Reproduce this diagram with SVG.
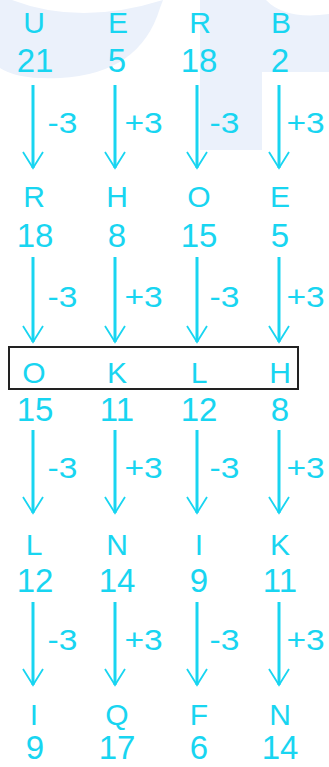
<svg xmlns="http://www.w3.org/2000/svg" width="329" height="767" viewBox="0 0 329 767">
<style>
.wm{fill:#EBF1FB}
.l{fill:#18D5F1;font-family:"Liberation Sans",Arial,sans-serif;font-size:30px;text-anchor:middle}
.n{fill:#18D5F1;font-family:"Liberation Sans",Arial,sans-serif;font-size:33px;text-anchor:middle}
.op{fill:#18D5F1;font-family:"Liberation Sans",Arial,sans-serif;font-size:30px}
.sh{stroke:#18D5F1;stroke-width:3;fill:none}
.hd{stroke:#18D5F1;stroke-width:1.8;fill:none}
.box{fill:none;stroke:#222;stroke-width:2}
</style>
<defs>
<marker id="ah" markerUnits="userSpaceOnUse" viewBox="-18 -12 20 24" markerWidth="20" markerHeight="24" refX="0" refY="0" orient="auto" overflow="visible">
<path class="hd" d="M-16,-10 L0,0 L-16,10"/>
</marker>
</defs>
<rect width="329" height="767" fill="#fff"/>
<g id="watermark">
<path class="wm" d="M0,0 L12,0 Q80,26 163,0 L160,8 Q140,74 60,78 Q18,80 0,68 Z"/>
<path class="wm" d="M200,0 L266,0 Q285,20 329,14 L329,72 L262,72 L262,150 L200,150 Z"/>
</g>
<g id="highlight">
<rect class="box" x="9" y="347" width="289" height="42"/>
</g>
<g id="row1">
<g id="n-U"><text class="l" x="34" y="33">U</text><text class="n" x="35" y="72">21</text></g>
<g id="n-E"><text class="l" x="118" y="33">E</text><text class="n" x="117" y="72">5</text></g>
<g id="n-R"><text class="l" x="200" y="33">R</text><text class="n" x="199" y="72">18</text></g>
<g id="n-B"><text class="l" x="281" y="33">B</text><text class="n" x="280" y="72">2</text></g>
</g>
<g id="row2">
<g id="n-R2"><text class="l" x="34" y="207">R</text><text class="n" x="35" y="247">18</text></g>
<g id="n-H2"><text class="l" x="117" y="207">H</text><text class="n" x="117" y="247">8</text></g>
<g id="n-O2"><text class="l" x="199" y="207">O</text><text class="n" x="199" y="247">15</text></g>
<g id="n-E2"><text class="l" x="280" y="207">E</text><text class="n" x="280" y="247">5</text></g>
</g>
<g id="row3">
<g id="n-O3"><text class="l" x="34" y="383">O</text><text class="n" x="35" y="421">15</text></g>
<g id="n-K3"><text class="l" x="117" y="383">K</text><text class="n" x="117" y="421">11</text></g>
<g id="n-L3"><text class="l" x="199" y="383">L</text><text class="n" x="199" y="421">12</text></g>
<g id="n-H3"><text class="l" x="280" y="383">H</text><text class="n" x="280" y="421">8</text></g>
</g>
<g id="row4">
<g id="n-L4"><text class="l" x="34" y="555">L</text><text class="n" x="35" y="592">12</text></g>
<g id="n-N4"><text class="l" x="117" y="555">N</text><text class="n" x="117" y="592">14</text></g>
<g id="n-I4"><text class="l" x="199" y="555">I</text><text class="n" x="199" y="592">9</text></g>
<g id="n-K4"><text class="l" x="280" y="555">K</text><text class="n" x="280" y="592">11</text></g>
</g>
<g id="row5">
<g id="n-I5"><text class="l" x="34" y="725">I</text><text class="n" x="35" y="759">9</text></g>
<g id="n-Q5"><text class="l" x="117" y="725">Q</text><text class="n" x="117" y="759">17</text></g>
<g id="n-F5"><text class="l" x="199" y="725">F</text><text class="n" x="199" y="759">6</text></g>
<g id="n-N5"><text class="l" x="280" y="725">N</text><text class="n" x="280" y="759">14</text></g>
</g>
<g id="connectors">
<line class="sh" x1="33" y1="85" x2="33" y2="168" marker-end="url(#ah)"/>
<line class="sh" x1="115" y1="85" x2="115" y2="168" marker-end="url(#ah)"/>
<line class="sh" x1="197" y1="85" x2="197" y2="168" marker-end="url(#ah)"/>
<line class="sh" x1="279" y1="85" x2="279" y2="168" marker-end="url(#ah)"/>
<text class="op" transform="translate(47.5,133) scale(1.12,1)">-3</text>
<text class="op" transform="translate(124.5,133) scale(1.12,1)">+3</text>
<text class="op" transform="translate(209.5,133) scale(1.12,1)">-3</text>
<text class="op" transform="translate(286.5,133) scale(1.12,1)">+3</text>
<line class="sh" x1="33" y1="257" x2="33" y2="342" marker-end="url(#ah)"/>
<line class="sh" x1="115" y1="257" x2="115" y2="342" marker-end="url(#ah)"/>
<line class="sh" x1="197" y1="257" x2="197" y2="342" marker-end="url(#ah)"/>
<line class="sh" x1="279" y1="257" x2="279" y2="342" marker-end="url(#ah)"/>
<text class="op" transform="translate(47.5,307) scale(1.12,1)">-3</text>
<text class="op" transform="translate(124.5,307) scale(1.12,1)">+3</text>
<text class="op" transform="translate(209.5,307) scale(1.12,1)">-3</text>
<text class="op" transform="translate(286.5,307) scale(1.12,1)">+3</text>
<line class="sh" x1="33" y1="430" x2="33" y2="513" marker-end="url(#ah)"/>
<line class="sh" x1="115" y1="430" x2="115" y2="513" marker-end="url(#ah)"/>
<line class="sh" x1="197" y1="430" x2="197" y2="513" marker-end="url(#ah)"/>
<line class="sh" x1="279" y1="430" x2="279" y2="513" marker-end="url(#ah)"/>
<text class="op" transform="translate(47.5,478) scale(1.12,1)">-3</text>
<text class="op" transform="translate(124.5,478) scale(1.12,1)">+3</text>
<text class="op" transform="translate(209.5,478) scale(1.12,1)">-3</text>
<text class="op" transform="translate(286.5,478) scale(1.12,1)">+3</text>
<line class="sh" x1="33" y1="602" x2="33" y2="685" marker-end="url(#ah)"/>
<line class="sh" x1="115" y1="602" x2="115" y2="685" marker-end="url(#ah)"/>
<line class="sh" x1="197" y1="602" x2="197" y2="685" marker-end="url(#ah)"/>
<line class="sh" x1="279" y1="602" x2="279" y2="685" marker-end="url(#ah)"/>
<text class="op" transform="translate(47.5,650) scale(1.12,1)">-3</text>
<text class="op" transform="translate(124.5,650) scale(1.12,1)">+3</text>
<text class="op" transform="translate(209.5,650) scale(1.12,1)">-3</text>
<text class="op" transform="translate(286.5,650) scale(1.12,1)">+3</text>
</g>
</svg>
